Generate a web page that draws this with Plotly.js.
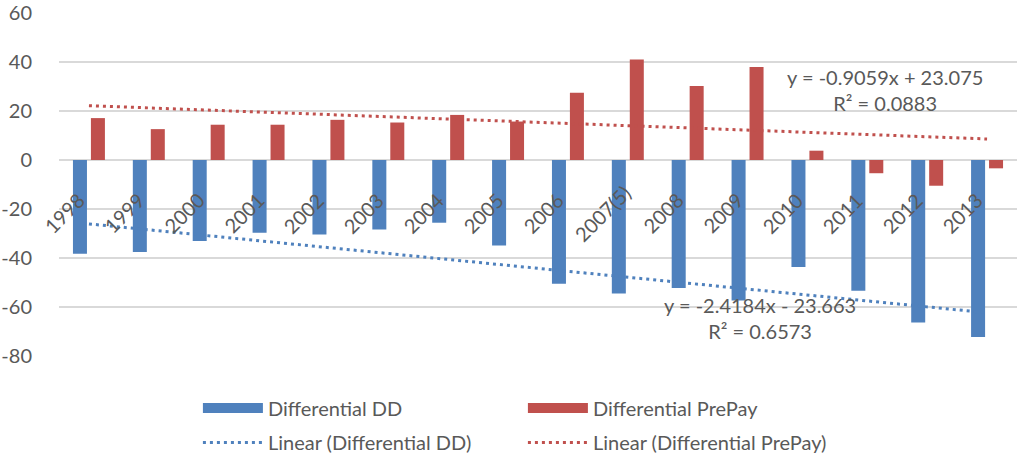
<!DOCTYPE html>
<html><head><meta charset="utf-8">
<script src="https://cdn.plot.ly/plotly-3.0.1.min.js"></script>
<style>html,body{margin:0;padding:0;background:#fff}#chart{width:1017px;height:462px}</style>
</head><body><div id="chart"></div>
<script>
const years = ['1998','1999','2000','2001','2002','2003','2004','2005','2006','2007(5)','2008','2009','2010','2011','2012','2013'];
const differentialDD = [-38.3,-37.6,-33.1,-29.7,-30.4,-28.4,-25.6,-34.9,-50.5,-54.5,-52.2,-57.3,-43.7,-53.4,-66.3,-72.2];
const differentialPrePay = [17.1,12.6,14.4,14.4,16.4,15.3,18.4,15.7,27.4,41.0,30.2,38.0,3.8,-5.4,-10.5,-3.4];
const trendDD = [-2.4184, -23.663, 0.6573];      // slope, intercept, R²
const trendPrePay = [-0.9059, 23.075, 0.0883];  // slope, intercept, R²
const yTicks = [60,40,20,0,-20,-40,-60,-80];
const seriesNames = ['Differential DD','Differential PrePay','Linear (Differential DD)','Linear (Differential PrePay)'];

const BLUE = '#4F81BD', RED = '#C0504D', TXT = '#595959', GRID = '#D9D9D9';
const FONT = 'Lato, "Open Sans", sans-serif';
const FS = 20;

function trendLine(t) {
  const n = years.length;
  return { x: [years[0], years[n-1]], y: [t[0]*1 + t[1], t[0]*n + t[1]] };
}
function eqText(t) {
  const sign = t[1] < 0 ? ' - ' : ' + ';
  return 'y = ' + t[0].toFixed(4) + 'x' + sign + Math.abs(t[1]).toFixed(3) + '<br>R² = ' + t[2].toFixed(4);
}

const tDD = trendLine(trendDD), tPP = trendLine(trendPrePay);
const traces = [
  {type:'bar', x: years, y: differentialDD, name: seriesNames[0], marker:{color:BLUE}, showlegend:false},
  {type:'bar', x: years, y: differentialPrePay, name: seriesNames[1], marker:{color:RED}, showlegend:false},
  {type:'scatter', mode:'lines', x:[null], y:[null], name: seriesNames[0], line:{color:BLUE, width:14}, hoverinfo:'skip', legend:'legend'},
  {type:'scatter', mode:'lines', x:[null], y:[null], name: seriesNames[1], line:{color:RED, width:14}, hoverinfo:'skip', legend:'legend'},
  {type:'scatter', mode:'lines', x: tDD.x, y: tDD.y, name: seriesNames[2], line:{color:BLUE, width:3, dash:'3px,4px'}, legend:'legend2'},
  {type:'scatter', mode:'lines', x: tPP.x, y: tPP.y, name: seriesNames[3], line:{color:RED, width:3, dash:'3px,4px'}, legend:'legend2'}
];

const annotations = years.map((yr, i) => ({
  x: i, y: 0, xref:'x', yref:'y', text: yr, showarrow:false, textangle:-45,
  xanchor:'center', yanchor:'middle', xshift:-25, yshift:-53,
  font:{family:FONT, size:FS, color:TXT}
}));
annotations.push({x:13.3, y:28.5, xref:'x', yref:'y', text: eqText(trendPrePay), showarrow:false,
  xanchor:'center', yanchor:'middle', align:'center', font:{family:FONT, size:FS, color:TXT}});
annotations.push({x:11.2, y:-64.3, xref:'x', yref:'y', text: eqText(trendDD), showarrow:false,
  xanchor:'center', yanchor:'middle', align:'center', font:{family:FONT, size:FS, color:TXT}});

const legendBase = {orientation:'h', x:0.145, xanchor:'left', yanchor:'top', itemwidth:60, entrywidth:250,
  font:{family:FONT, size:FS, color:TXT}, traceorder:'normal', bgcolor:'rgba(0,0,0,0)'};

const layout = {
  width:1017, height:462,
  margin:{l:59, r:0, t:13, b:105},
  paper_bgcolor:'#fff', plot_bgcolor:'#fff',
  font:{family:FONT, size:FS, color:TXT},
  barmode:'group', bargap:0.4, bargroupgap:0.22,
  xaxis:{type:'category', showticklabels:false, showgrid:false, zeroline:false, showline:false, ticks:'', range:[-0.5, years.length-0.5]},
  yaxis:{range:[-80,60], tickvals:yTicks, ticktext:yTicks.map(String), showgrid:true, gridcolor:GRID, gridwidth:1.5,
         zeroline:true, zerolinecolor:GRID, zerolinewidth:1.5, showline:false,
         ticks:'outside', ticklen:22, tickcolor:'rgba(0,0,0,0)', tickfont:{family:FONT, size:FS, color:TXT}},
  legend: Object.assign({}, legendBase, {y:-0.0913}),
  legend2: Object.assign({}, legendBase, {y:-0.197}),
  annotations: annotations,
  showlegend:true
};
Plotly.newPlot('chart', traces, layout, {displayModeBar:false, staticPlot:true});
</script></body></html>
